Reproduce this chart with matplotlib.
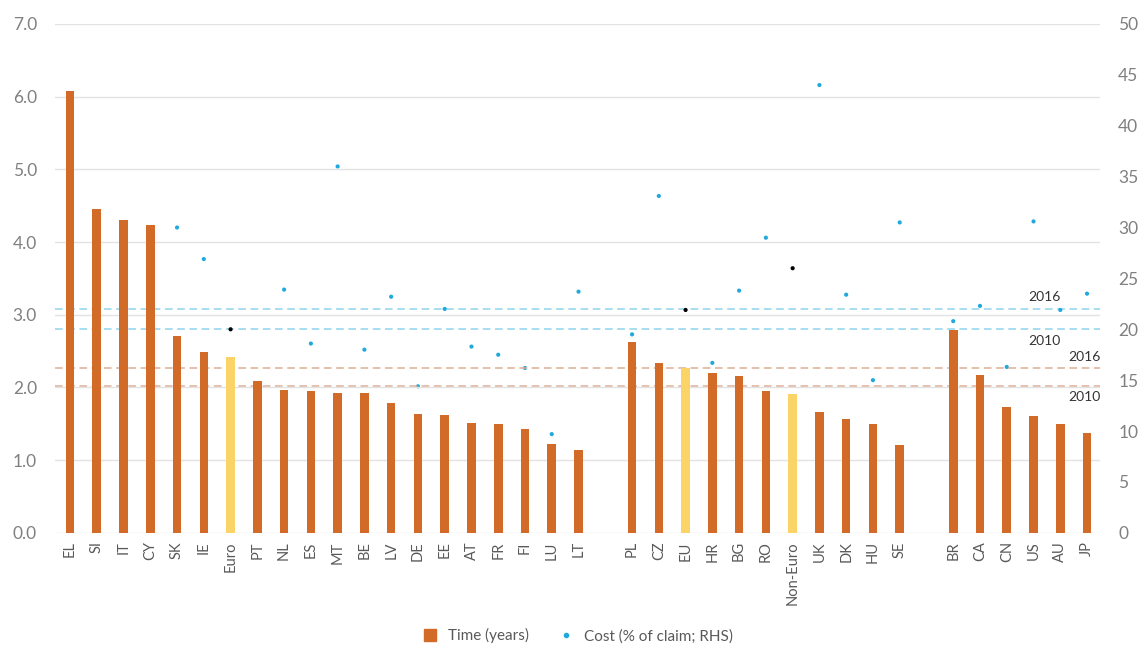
import numpy as np
import matplotlib
matplotlib.use('Agg')
import matplotlib.pyplot as plt
import matplotlib as mpl
from matplotlib.lines import Line2D
from matplotlib.patches import Patch

mpl.rcParams['font.family'] = ['Lato', 'DejaVu Sans']

# 데이터 (세 그룹: 유로존 / 비유로 EU / 기타)
labels_a = ['EL', 'SI', 'IT', 'CY', 'SK', 'IE', 'Euro', 'PT', 'NL', 'ES', 'MT', 'BE', 'LV',
            'DE', 'EE', 'AT', 'FR', 'FI', 'LU', 'LT']
time_a = [6.08, 4.46, 4.31, 4.23, 2.71, 2.49, 2.42, 2.09, 1.97, 1.95, 1.93, 1.93, 1.79,
          1.64, 1.62, 1.51, 1.50, 1.43, 1.22, 1.14]
cost_a = [14.6, 12.8, 23.1, 16.7, 30.0, 26.9, 20.0, 14.2, 23.9, 18.6, 36.0, 18.0, 23.2,
          14.4, 22.0, 18.3, 17.5, 16.2, 9.7, 23.7]

labels_b = ['PL', 'CZ', 'EU', 'HR', 'BG', 'RO', 'Non-Euro', 'UK', 'DK', 'HU', 'SE']
time_b = [2.63, 2.34, 2.27, 2.20, 2.16, 1.95, 1.91, 1.66, 1.57, 1.50, 1.21]
cost_b = [19.5, 33.1, 21.9, 16.7, 23.8, 29.0, 26.0, 44.0, 23.4, 15.0, 30.5]

labels_c = ['BR', 'CA', 'CN', 'US', 'AU', 'JP']
time_c = [2.79, 2.17, 1.73, 1.61, 1.50, 1.37]
cost_c = [20.8, 22.3, 16.3, 30.6, 21.9, 23.5]

aggregates = ['Euro', 'EU', 'Non-Euro']

# 평균선 (time: 왼쪽 축, cost: 오른쪽 축)
time_avg = {'2016': 2.27, '2010': 2.02}
cost_avg = {'2016': 22.0, '2010': 20.0}

labels = labels_a + labels_b + labels_c
time = time_a + time_b + time_c
cost = cost_a + cost_b + cost_c

# 그룹 사이에 빈 칸 하나
pos = list(range(len(labels_a)))
pos += [len(labels_a) + 1 + i for i in range(len(labels_b))]
pos += [len(labels_a) + len(labels_b) + 2 + i for i in range(len(labels_c))]
pos = np.array(pos)

orange = '#D26A28'
yellow = '#FAD467'
blue = '#22A9DC'
grey = '#595959'

bar_cols = [yellow if l in aggregates else orange for l in labels]
dot_cols = ['black' if l in aggregates else blue for l in labels]

fig = plt.figure(figsize=(11.46, 6.57), dpi=100)
ax = fig.add_axes([0.048, 0.189, 0.912, 0.7745])
ax2 = ax.twinx()

ax.set_zorder(ax2.get_zorder() + 1)
ax.patch.set_visible(False)

ax.bar(pos, time, width=0.32, color=bar_cols, zorder=3)

ax2.scatter(pos, cost, s=9, c=dot_cols, zorder=3, linewidths=0)

ax.set_ylim(0, 7)
ax2.set_ylim(0, 50)
ax.set_xlim(-0.56, pos[-1] + 0.49)

ax.set_yticks(np.arange(0, 7.1, 1.0))
ax.set_yticklabels([f'{v:.1f}' for v in np.arange(0, 7.1, 1.0)])
ax2.set_yticks(range(0, 51, 5))

ax.grid(axis='y', color='#E3E3E3', linewidth=1, zorder=0)
ax.set_xticks(pos)
ax.set_xticklabels(labels, rotation=90)

for a in (ax, ax2):
    for s in a.spines.values():
        s.set_visible(False)
    a.tick_params(length=0, labelsize=12.5, labelcolor='#808080')
ax.tick_params(axis='x', labelsize=10.5, labelcolor=grey, pad=6)
ax.tick_params(axis='y', pad=13)
ax2.tick_params(axis='y', pad=13)

# 2010 / 2016 평균선
for yr, v in cost_avg.items():
    ax2.axhline(v, color='#8FD4EE', linestyle=(0, (5, 3)), linewidth=1.1, zorder=1)
for yr, v in time_avg.items():
    ax.axhline(v, color='#DDAE94', linestyle=(0, (5, 3)), linewidth=1.1, zorder=1)

ax2.text(36.4, cost_avg['2016'] + 0.6, '2016', fontsize=10, color='#333333', ha='center', va='bottom')
ax2.text(36.4, cost_avg['2010'] - 0.6, '2010', fontsize=10, color='#333333', ha='center', va='top')
ax.text(37.9, time_avg['2016'] + 0.07, '2016', fontsize=10, color='#333333', ha='center', va='bottom')
ax.text(37.9, time_avg['2010'] - 0.07, '2010', fontsize=10, color='#333333', ha='center', va='top')

handles = [Patch(color=orange, label='Time (years)'),
           Line2D([], [], marker='o', linestyle='none', markersize=3, color=blue,
                  label='Cost (% of claim; RHS)')]
fig.legend(handles=handles, loc='lower center', bbox_to_anchor=(0.505, 0.0), ncol=2,
           frameon=False, fontsize=11, handlelength=0.8, handleheight=0.8,
           columnspacing=2.0, labelcolor=grey)

plt.savefig('out.png', dpi=100)
